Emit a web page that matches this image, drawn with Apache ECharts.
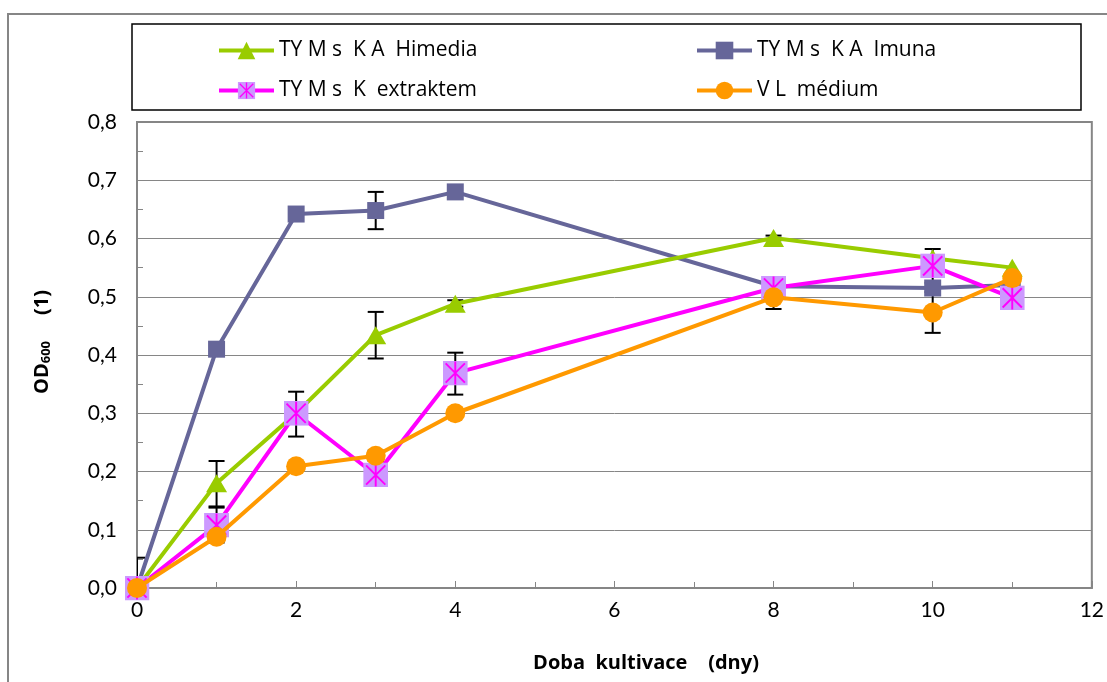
<!DOCTYPE html>
<html>
<head>
<meta charset="utf-8">
<script src="https://cdn.jsdelivr.net/npm/echarts@6/dist/echarts.min.js"></script>
<style>
html,body{margin:0;padding:0;background:#fff;}
#chart{width:1107px;height:682px;}
</style>
</head>
<body>
<div id="chart"></div>
<script>
// ---- data ----
const days = [0, 1, 2, 3, 4, 8, 10, 11];
const seriesNames = ['TY M s  K A  Himedia', 'TY M s  K A  Imuna', 'TY M s  K  extraktem', 'V L  médium'];
const himedia   = [0, 0.180, 0.300, 0.434, 0.488, 0.601, 0.566, 0.550];
const imuna     = [0, 0.410, 0.642, 0.648, 0.680, 0.518, 0.515, 0.520];
const extraktem = [0, 0.108, 0.300, 0.194, 0.369, 0.515, 0.553, 0.498];
const vlMedium  = [0, 0.088, 0.209, 0.227, 0.300, 0.499, 0.473, 0.532];
// error bars: [day, low, high]
const errHimedia   = [[0, -0.052, 0.052], [1, 0.140, 0.218], [3, 0.394, 0.474], [4, 0.483, 0.494], [8, 0.597, 0.605]];
const errImuna     = [[3, 0.616, 0.680]];
const errExtraktem = [[1, 0.078, 0.138], [2, 0.260, 0.337], [4, 0.332, 0.404], [10, 0.524, 0.582]];
const errVl        = [[3, 0.218, 0.236], [8, 0.479, 0.519], [10, 0.438, 0.508]];
const yTicks = [0, 0.1, 0.2, 0.3, 0.4, 0.5, 0.6, 0.7, 0.8];
const xTicks = [0, 2, 4, 6, 8, 10, 12];

const FONT = 'Lato, "Open Sans", sans-serif';
const FONT2 = '"Open Sans", Lato, sans-serif';
const pts = arr => days.map((d, i) => [d, arr[i]]);

const starSvg = "<svg xmlns='http://www.w3.org/2000/svg' width='26' height='26' viewBox='0 0 26 26'>" +
  "<rect width='26' height='26' fill='#CC99FF'/>" +
  "<path d='M13 1V25M3 3L23 23M23 3L3 23' stroke='#FF00FF' stroke-width='2' fill='none'/></svg>";
const starSymbol = 'image://data:image/svg+xml;charset=utf-8,' + encodeURIComponent(starSvg);

function errRender(params, api) {
  const x = api.value(0), lo = api.value(1), hi = api.value(2);
  const top = api.coord([x, hi]);
  const bot = api.coord([x, lo]);
  const hw = 8;
  const st = { stroke: '#000', lineWidth: 2 };
  return {
    type: 'group',
    children: [
      { type: 'line', shape: { x1: top[0], y1: top[1], x2: bot[0], y2: bot[1] }, style: st },
      { type: 'line', shape: { x1: top[0] - hw, y1: top[1], x2: top[0] + hw, y2: top[1] }, style: st },
      { type: 'line', shape: { x1: bot[0] - hw, y1: bot[1], x2: bot[0] + hw, y2: bot[1] }, style: st }
    ]
  };
}
function errSeries(data) {
  return { type: 'custom', renderItem: errRender, data: data, encode: { x: 0, y: [1, 2] }, clip: true, z: 1, silent: true };
}

const chart = echarts.init(document.getElementById('chart'), null, { renderer: 'canvas' });
const legendText = { fontFamily: FONT2, fontSize: 21, color: '#000' };
chart.setOption({
  animation: false,
  backgroundColor: '#fff',
  textStyle: { fontFamily: FONT },
  grid: { left: 137, right: 10, top: 122, bottom: 94, show: true, borderColor: '#868686', borderWidth: 2, backgroundColor: 'transparent' },
  legend: [
    { left: 212, top: 35, orient: 'vertical', itemWidth: 55, itemHeight: 22, itemGap: 19,
      lineStyle: { width: 4 },
      data: [seriesNames[0], seriesNames[2]], textStyle: legendText },
    { left: 690, top: 35, orient: 'vertical', itemWidth: 55, itemHeight: 22, itemGap: 19,
      lineStyle: { width: 4 },
      data: [seriesNames[1], seriesNames[3]], textStyle: legendText }
  ],
  xAxis: {
    type: 'value', min: 0, max: 12, interval: 2,
    axisLine: { show: true, lineStyle: { color: '#868686', width: 2 } },
    axisTick: { show: true, inside: true, length: 7, lineStyle: { color: '#868686' } },
    minorTick: { show: true, splitNumber: 2, length: 6, lineStyle: { color: '#868686' } },
    splitLine: { show: false },
    axisLabel: { margin: 12, fontSize: 21, color: '#000', fontFamily: FONT, customValues: xTicks }
  },
  yAxis: {
    type: 'value', min: 0, max: 0.8, interval: 0.1,
    axisLine: { show: true, lineStyle: { color: '#868686', width: 2 } },
    axisTick: { show: true, inside: true, length: 7, lineStyle: { color: '#868686' } },
    minorTick: { show: true, splitNumber: 2, length: 6, lineStyle: { color: '#868686' } },
    splitLine: { show: true, lineStyle: { color: '#868686', width: 1 } },
    axisLabel: { margin: 20, fontSize: 21, color: '#000', fontFamily: FONT, customValues: yTicks,
      formatter: v => v.toFixed(1).replace('.', ',') },
    name: '{b|     OD}{s|600}{b|     (1)}',
    nameLocation: 'middle', nameGap: 84, nameRotate: 90,
    nameTextStyle: {
      rich: {
        b: { fontFamily: FONT2, fontSize: 20, fontWeight: 'bold', color: '#000' },
        s: { fontFamily: FONT2, fontSize: 13, fontWeight: 'bold', color: '#000', padding: [9, 0, 0, 0] }
      }
    }
  },
  graphic: [
    { type: 'rect', shape: { x: 8, y: 14, width: 1200, height: 800 }, style: { fill: 'none', stroke: '#868686', lineWidth: 2 }, silent: true, z: -10 },
    { type: 'rect', shape: { x: 132, y: 24, width: 949, height: 86 }, style: { fill: 'none', stroke: '#000', lineWidth: 1.5 }, silent: true },
    { type: 'text', x: 646, y: 663, style: { text: 'Doba  kultivace    (dny)', fontFamily: FONT2, fontSize: 20, fontWeight: 'bold', fill: '#000', align: 'center', verticalAlign: 'middle' }, silent: true }
  ],
  series: [
    errSeries(errImuna),
    errSeries(errHimedia),
    errSeries(errExtraktem),
    errSeries(errVl),
    { name: seriesNames[1], type: 'line', data: pts(imuna), symbol: 'rect', symbolSize: 17,
      lineStyle: { color: '#666699', width: 4 }, itemStyle: { color: '#666699' }, z: 2 },
    { name: seriesNames[0], type: 'line', data: pts(himedia), symbol: 'triangle', symbolSize: [21, 18],
      lineStyle: { color: '#99CC00', width: 4 }, itemStyle: { color: '#99CC00' }, z: 3 },
    { name: seriesNames[2], type: 'line', data: pts(extraktem), symbol: starSymbol, symbolSize: 25,
      lineStyle: { color: '#FF00FF', width: 4 }, itemStyle: { color: '#FF00FF' }, z: 4 },
    { name: seriesNames[3], type: 'line', data: pts(vlMedium), symbol: 'circle', symbolSize: 20,
      lineStyle: { color: '#FF9900', width: 4 }, itemStyle: { color: '#FF9900' }, z: 5 }
  ]
});
</script>
</body>
</html>
